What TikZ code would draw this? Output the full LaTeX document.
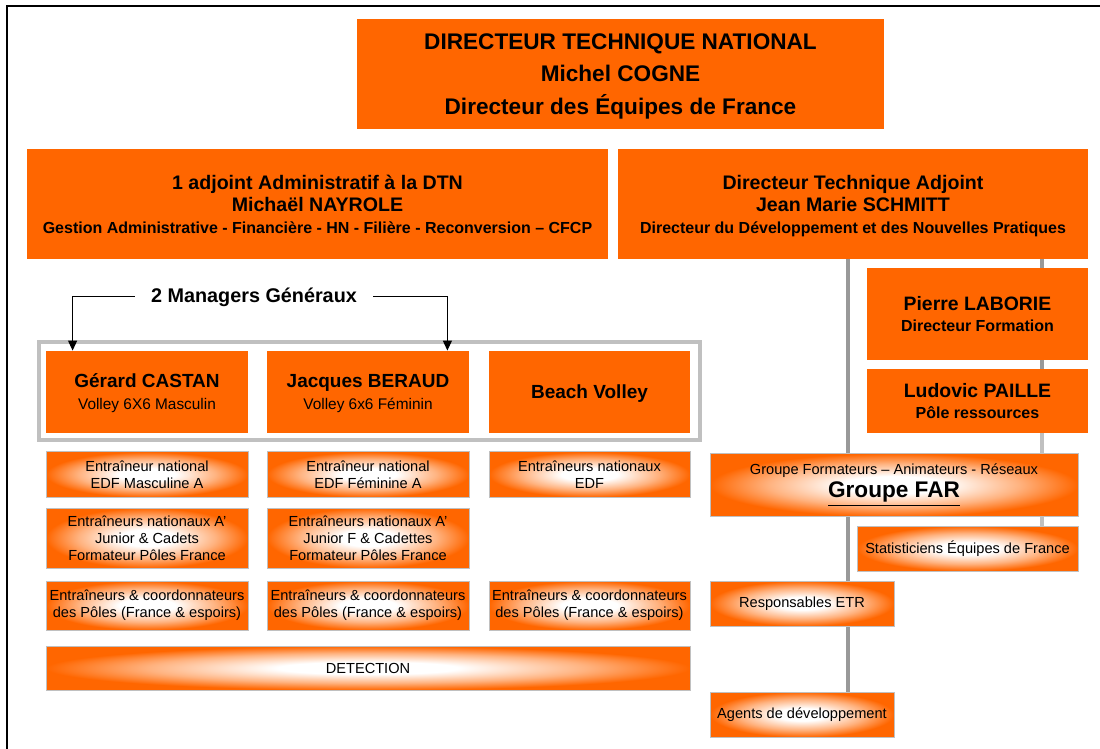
\documentclass[tikz,border=0pt]{standalone}
\usepackage{fontspec}
\setmainfont{Liberation Sans}
\usetikzlibrary{arrows.meta,backgrounds}
\definecolor{boxorange}{HTML}{FF6600}
\definecolor{trunkgray}{HTML}{999999}
\definecolor{framegray}{HTML}{C0C0C0}
\pgfdeclareradialshading{glow}{\pgfpoint{0bp}{0bp}}{color(0bp)=(white);color(7bp)=(white);color(17bp)=(boxorange!50);color(25bp)=(boxorange);color(50bp)=(boxorange)}
\tikzset{
  headbox/.style={fill=boxorange, inner sep=0pt, align=center, text depth=0pt},
  glowbox/.style={shading=glow, draw=framegray, line width=0.5pt, inner sep=0pt, align=center,
    font=\fontsize{7.3}{8.6}\selectfont},
  trunk/.style={draw=trunkgray, line width=2pt},
  mgrarrow/.style={-{Triangle[length=5pt,width=4.5pt]}, line width=0.5pt}
}
\begin{document}
\begin{tikzpicture}[x=0.5pt,y=-0.5pt]
  \useasboundingbox (0,0) rectangle (1100,749);
  \draw[line width=1.3pt] (7,749) -- (7,6) -- (1100,6);
  % direction
  \node[headbox, minimum width=263.5pt, minimum height=55pt,
    font=\bfseries\fontsize{11.3}{16.3}\selectfont] (dtn) at (620.5,74)
    {DIRECTEUR TECHNIQUE NATIONAL\\Michel COGNE\\Directeur des Équipes de France};
  \node[headbox, minimum width=290.5pt, minimum height=55pt,
    font=\bfseries\fontsize{9.8}{11}\selectfont] (adj) at (317.5,204)
    {1 adjoint Administratif à la DTN\\Michaël NAYROLE\\
     {\fontsize{8}{9.6}\selectfont Gestion Administrative - Financière - HN - Filière - Reconversion – CFCP}};
  \node[headbox, minimum width=235pt, minimum height=55pt,
    font=\bfseries\fontsize{9.8}{11}\selectfont] (dta) at (853,204)
    {Directeur Technique Adjoint\\Jean Marie SCHMITT\\
     {\fontsize{8}{9.6}\selectfont Directeur du Développement et des Nouvelles Pratiques}};
  \node[headbox, minimum width=110.5pt, minimum height=46pt,
    font=\bfseries\fontsize{9.7}{10.5}\selectfont] (laborie) at (977.5,314)
    {Pierre LABORIE\\{\fontsize{8}{9.6}\selectfont Directeur Formation}};
  \node[headbox, minimum width=110.5pt, minimum height=32pt,
    font=\bfseries\fontsize{9.7}{10.5}\selectfont] (paille) at (977.5,401)
    {Ludovic PAILLE\\{\fontsize{8}{9.6}\selectfont Pôle ressources}};
  % volley
  \draw[framegray, line width=2pt] (39,342) rectangle (700,440);
  \node[headbox, minimum width=101pt, minimum height=41pt,
    font=\fontsize{9.5}{11}\selectfont] (castan) at (147,392)
    {\textbf{Gérard CASTAN}\\{\fontsize{7.7}{9}\selectfont Volley 6X6 Masculin}};
  \node[headbox, minimum width=101pt, minimum height=41pt,
    font=\fontsize{9.5}{11}\selectfont] (beraud) at (368,392)
    {\textbf{Jacques BERAUD}\\{\fontsize{7.7}{9}\selectfont Volley 6x6 Féminin}};
  \node[headbox, minimum width=100.5pt, minimum height=41pt,
    font=\bfseries\fontsize{9.5}{11}\selectfont] (beach) at (589.5,392) {Beach Volley};
  \node[font=\bfseries\fontsize{9.9}{12}\selectfont, inner xsep=8pt] (mgr) at (254,297)
    {2 Managers Généraux};
  \draw[mgrarrow] (mgr.west) -| ([xshift=13.5pt]castan.north west);
  \draw[mgrarrow] (mgr.east) -| ([xshift=-11pt]beraud.north east);
  % entraineurs
  \node[glowbox, minimum width=101pt, minimum height=22.5pt] (en1) at (147,474.5)
    {Entraîneur national\\EDF Masculine A};
  \node[glowbox, minimum width=101pt, minimum height=22.5pt] (en2) at (368,474.5)
    {Entraîneur national\\EDF Féminine A};
  \node[glowbox, minimum width=100.5pt, minimum height=22.5pt] (en3) at (589.5,474.5)
    {Entraîneurs nationaux\\EDF};
  \node[glowbox, minimum width=101pt, minimum height=30pt] (jun1) at (147,538)
    {Entraîneurs nationaux A'\\Junior \& Cadets\\Formateur Pôles France};
  \node[glowbox, minimum width=101pt, minimum height=30pt] (jun2) at (368,538)
    {Entraîneurs nationaux A'\\Junior F \& Cadettes\\Formateur Pôles France};
  \node[glowbox, minimum width=101pt, minimum height=24.5pt] (pole1) at (147,605.5)
    {Entraîneurs \& coordonnateurs\\des Pôles (France \& espoirs)};
  \node[glowbox, minimum width=101pt, minimum height=24.5pt] (pole2) at (368,605.5)
    {Entraîneurs \& coordonnateurs\\des Pôles (France \& espoirs)};
  \node[glowbox, minimum width=100.5pt, minimum height=24.5pt] (pole3) at (589.5,605.5)
    {Entraîneurs \& coordonnateurs\\des Pôles (France \& espoirs)};
  \node[glowbox, minimum width=322pt, minimum height=22pt] (detect) at (368,668) {DETECTION};
  % developpement
  \node[glowbox, minimum width=184pt, minimum height=31.5pt, font=\fontsize{7.3}{11.5}\selectfont]
    (far) at (894,485)
    {Groupe Formateurs – Animateurs - Réseaux\\
     {\bfseries\fontsize{11.3}{13}\selectfont\underline{Groupe FAR}}};
  \node[glowbox, minimum width=110.5pt, minimum height=22.5pt] (stat) at (967.5,548.5)
    {Statisticiens Équipes de France};
  \node[glowbox, minimum width=92pt, minimum height=22.5pt] (etr) at (802,603.5)
    {Responsables ETR};
  \node[glowbox, minimum width=92pt, minimum height=22.5pt] (agents) at (802,714.5)
    {Agents de développement};
  \coordinate (trunkL) at (848,0);
  \coordinate (trunkR) at (1042,0);
  \begin{scope}[on background layer]
    \draw[trunk] (dta.south -| trunkL) -- (agents.north -| trunkL);
    \draw[trunk] (dta.south -| trunkR) -- (paille.south -| trunkR);
    \draw[trunk, draw=framegray] (paille.south -| trunkR) -- (stat.north -| trunkR);
  \end{scope}
\end{tikzpicture}
\end{document}
